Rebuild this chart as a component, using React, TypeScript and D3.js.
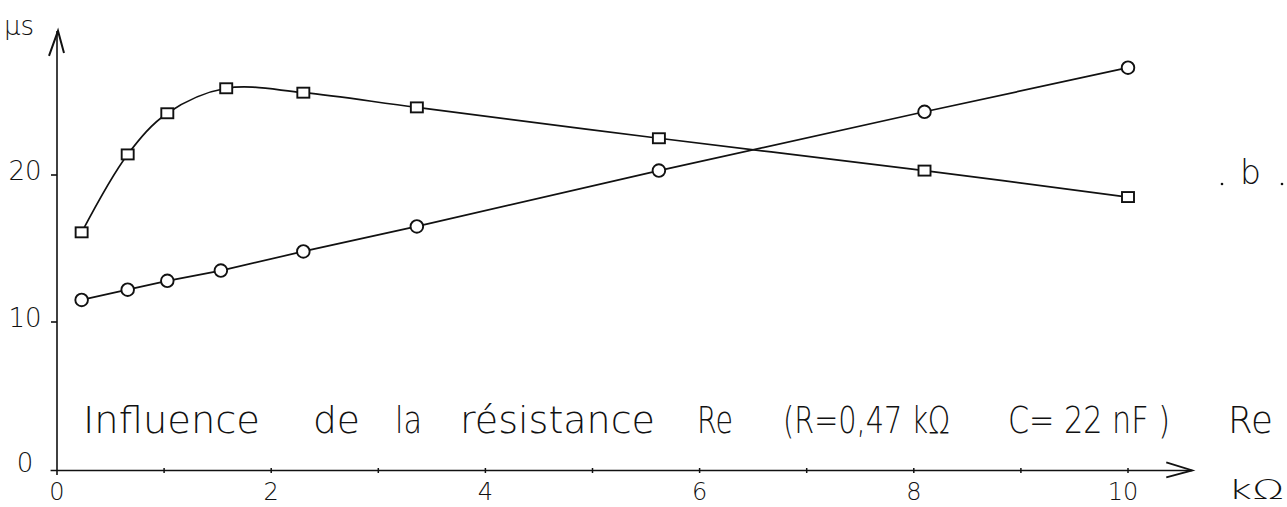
import React, { useEffect, useRef } from "react";
import * as d3 from "d3";

// résistance Re (kΩ) and time (µs)
const squareRe = [0.23, 0.66, 1.03, 1.58, 2.3, 3.36, 5.62, 8.1, 10.0];
const squareT = [16.1, 21.4, 24.2, 25.9, 25.6, 24.6, 22.5, 20.3, 18.5];
const circleRe = [0.23, 0.66, 1.03, 1.53, 2.3, 3.36, 5.62, 8.1, 10.0];
const circleT = [11.5, 12.2, 12.8, 13.5, 14.8, 16.5, 20.3, 24.3, 27.3];

const xTicks = [0, 2, 4, 6, 8, 10];
const xMinorTicks = [1, 3, 5, 7, 9];
const yTicks = [0, 10, 20];

const captionWords = [
  "Influence",
  "de",
  "la",
  "résistance",
  "Re",
  "(R=0,47 kΩ",
  "C= 22 nF )",
  "Re",
];
// left edge and width of each word, in pixels
const captionLayout = [
  [83, 177],
  [313, 47],
  [395, 27],
  [460, 195],
  [697, 36],
  [783, 167],
  [1008, 162],
  [1228, 45],
];

const W = 1287;
const H = 507;
const FONT = "'DejaVu Sans', sans-serif";

const App: React.FC = () => {
  const svgRef = useRef<SVGSVGElement>(null);

  useEffect(() => {
    if (!svgRef.current) return;
    const svg = d3.select(svgRef.current);
    svg.selectAll("*").remove();

    const x = d3.scaleLinear().domain([0, 10]).range([57, 1128]);
    const y = d3.scaleLinear().domain([0, 30]).range([469, 28]);

    const ink = "#111";

    // axes
    const x0 = y(-0.1);
    svg
      .append("line")
      .attr("x1", x(-0.06))
      .attr("x2", x(10.6))
      .attr("y1", x0)
      .attr("y2", x0)
      .attr("stroke", ink)
      .attr("stroke-width", 1.6);
    svg
      .append("path")
      .attr(
        "d",
        `M${x(10.6) - 26},${x0 - 8} L${x(10.6)},${x0} L${x(10.6) - 26},${x0 + 7}`
      )
      .attr("fill", "none")
      .attr("stroke", ink)
      .attr("stroke-width", 1.8);

    const yTop = y(29.8);
    svg
      .append("line")
      .attr("x1", x(0))
      .attr("x2", x(0))
      .attr("y1", y(-0.4))
      .attr("y2", yTop)
      .attr("stroke", ink)
      .attr("stroke-width", 1.6);
    svg
      .append("path")
      .attr(
        "d",
        `M${x(0) - 8},${yTop + 25} L${x(0) + 1},${yTop} L${x(0) + 7},${yTop + 22}`
      )
      .attr("fill", "none")
      .attr("stroke", ink)
      .attr("stroke-width", 2);

    // x ticks
    svg
      .selectAll(".xt")
      .data([...xTicks.filter(d => d > 0), ...xMinorTicks])
      .enter()
      .append("line")
      .attr("x1", d => x(d))
      .attr("x2", d => x(d))
      .attr("y1", y(0) - 1)
      .attr("y2", y(0) + 4)
      .attr("stroke", ink)
      .attr("stroke-width", 1.5);

    svg
      .selectAll(".xl")
      .data(xTicks)
      .enter()
      .append("text")
      .attr("x", d => x(d) - (d === 10 ? 5 : 0))
      .attr("y", 500)
      .attr("text-anchor", "middle")
      .attr("font-family", FONT)
      .attr("font-weight", 200)
      .attr("font-size", 24)
      .attr("fill", ink)
      .text(d => d);

    // y ticks
    svg
      .selectAll(".yt")
      .data(yTicks.filter(d => d > 0))
      .enter()
      .append("line")
      .attr("x1", x(0) - 6)
      .attr("x2", x(0))
      .attr("y1", d => y(d))
      .attr("y2", d => y(d))
      .attr("stroke", ink)
      .attr("stroke-width", 1.6);

    svg
      .selectAll(".yl")
      .data(yTicks)
      .enter()
      .append("text")
      .attr("x", 25)
      .attr("y", d => y(d) + (d === 0 ? 3 : 5))
      .attr("text-anchor", "middle")
      .attr("font-family", FONT)
      .attr("font-weight", 200)
      .attr("font-size", 26)
      .attr("fill", ink)
      .text(d => d);

    // units
    svg
      .append("text")
      .attr("x", 4)
      .attr("y", 35)
      .attr("font-family", FONT)
      .attr("font-weight", 200)
      .attr("font-size", 26)
      .attr("fill", ink)
      .text("µs");
    svg
      .append("text")
      .attr("x", 1228)
      .attr("y", 499)
      .attr("font-family", FONT)
      .attr("font-weight", 200)
      .attr("font-size", 26)
      .attr("textLength", 56)
      .attr("lengthAdjust", "spacingAndGlyphs")
      .attr("fill", ink)
      .text("kΩ");

    // curves
    const squares = squareRe.map((r, i) => ({ r, t: squareT[i] }));
    const circles = circleRe.map((r, i) => ({ r, t: circleT[i] }));

    const smooth = d3
      .line<{ r: number; t: number }>()
      .x(d => x(d.r))
      .y(d => y(d.t))
      .curve(d3.curveCatmullRom.alpha(0.5));
    const straight = d3
      .line<{ r: number; t: number }>()
      .x(d => x(d.r))
      .y(d => y(d.t));

    svg
      .append("path")
      .attr("d", smooth(squares)!)
      .attr("fill", "none")
      .attr("stroke", ink)
      .attr("stroke-width", 1.7);
    svg
      .append("path")
      .attr("d", straight(circles)!)
      .attr("fill", "none")
      .attr("stroke", ink)
      .attr("stroke-width", 1.7);

    svg
      .selectAll(".sq")
      .data(squares)
      .enter()
      .append("rect")
      .attr("x", d => x(d.r) - 6)
      .attr("y", d => y(d.t) - 5)
      .attr("width", 12)
      .attr("height", 10)
      .attr("fill", "#fff")
      .attr("stroke", ink)
      .attr("stroke-width", 1.9);

    svg
      .selectAll(".ci")
      .data(circles)
      .enter()
      .append("circle")
      .attr("cx", d => x(d.r))
      .attr("cy", d => y(d.t))
      .attr("r", 6.3)
      .attr("fill", "#fff")
      .attr("stroke", ink)
      .attr("stroke-width", 1.9);

    // caption
    svg
      .selectAll(".cap")
      .data(captionWords)
      .enter()
      .append("text")
      .attr("x", (_, i) => captionLayout[i][0])
      .attr("y", 433)
      .attr("font-family", FONT)
      .attr("font-weight", 200)
      .attr("font-size", 38)
      .attr("textLength", (_, i) => captionLayout[i][1])
      .attr("lengthAdjust", "spacingAndGlyphs")
      .attr("fill", ink)
      .text(d => d);

    // "b" label
    svg
      .append("text")
      .attr("x", 1240)
      .attr("y", 184)
      .attr("font-family", FONT)
      .attr("font-weight", 200)
      .attr("font-size", 33)
      .attr("fill", ink)
      .text("b");
    svg
      .selectAll(".dot")
      .data([1222, 1282])
      .enter()
      .append("circle")
      .attr("cx", d => d)
      .attr("cy", 184)
      .attr("r", 1.3)
      .attr("fill", ink);
  }, []);

  return (
    <svg
      ref={svgRef}
      width={W}
      height={H}
      style={{ position: "absolute", left: 0, top: 0, background: "#fff" }}
    />
  );
};

export default App;
